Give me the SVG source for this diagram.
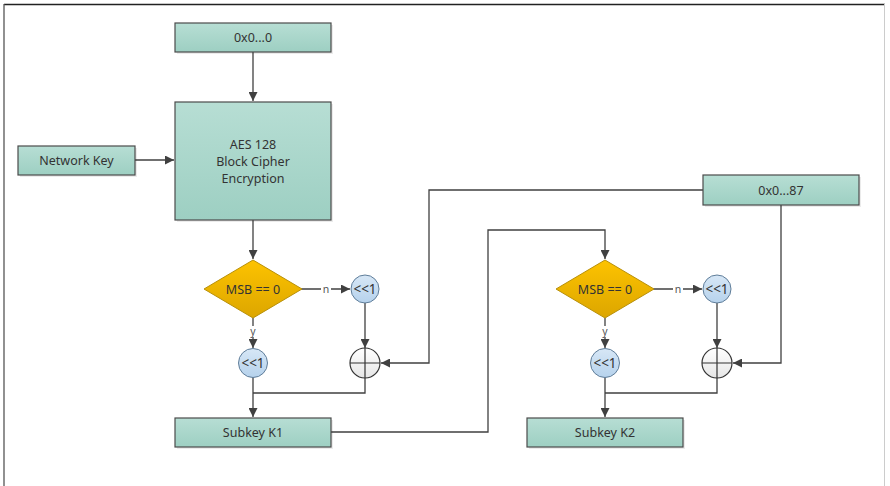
<svg xmlns="http://www.w3.org/2000/svg" width="890" height="486" viewBox="0 0 890 486">
<style>
.box{fill:url(#gTeal);stroke:#4b4b4b;stroke-width:1.2}
.dia{fill:url(#gGold);stroke:#b8900a;stroke-width:1}
.cir{fill:url(#gBlue);stroke:#5f7d99;stroke-width:1}
.xor{fill:url(#gGray);stroke:#333;stroke-width:1.2}
.sh{fill:#000;opacity:0.08}
.t{font-family:"Noto Sans","Open Sans",sans-serif;font-size:12.5px;fill:#333;text-anchor:middle;dominant-baseline:central}
.ct{font-size:13.5px}
.lbl{font-family:"Noto Sans","Open Sans",sans-serif;font-size:10.5px;fill:#555;text-anchor:middle;dominant-baseline:central}
.c{fill:none;stroke:#404040;stroke-width:1.3}
.ca{fill:none;stroke:#404040;stroke-width:1.3;marker-end:url(#arr)}
</style>
<defs>
<linearGradient id="gTeal" x1="0" y1="0" x2="0" y2="1"><stop offset="0" stop-color="#b7ded4"/><stop offset="1" stop-color="#9dcfc2"/></linearGradient>
<linearGradient id="gGold" x1="0" y1="0" x2="0" y2="1"><stop offset="0" stop-color="#fdc300"/><stop offset="1" stop-color="#dca600"/></linearGradient>
<linearGradient id="gBlue" x1="0" y1="0" x2="0" y2="1"><stop offset="0" stop-color="#d7e7f6"/><stop offset="1" stop-color="#b6d2ec"/></linearGradient>
<linearGradient id="gGray" x1="0" y1="0" x2="0" y2="1"><stop offset="0" stop-color="#ffffff"/><stop offset="1" stop-color="#e6e6e6"/></linearGradient>
<marker id="arr" viewBox="0 0 10 10" refX="10" refY="5" markerWidth="9" markerHeight="9" markerUnits="userSpaceOnUse" orient="auto"><path d="M0,0 L10,5 L0,10 z" fill="#404040"/></marker>
</defs>
<rect x="0" y="0" width="890" height="486" fill="#fff"/>
<g id="frame">
<line x1="4" y1="4.5" x2="885" y2="4.5" stroke="#222" stroke-width="1.3"/>
<line x1="4" y1="4" x2="4" y2="486" stroke="#555" stroke-width="1.3"/>
<line x1="884.5" y1="4" x2="884.5" y2="486" stroke="#ccc" stroke-width="1"/>
</g>
<g id="connectors">
<path class="ca" d="M253,52 V101"/>
<path class="ca" d="M135,160 H174"/>
<path class="ca" d="M253,220 V259"/>
<path class="ca" d="M301,289 H350"/>
<path class="ca" d="M253,318 V348"/>
<path class="ca" d="M365,303 V348"/>
<path class="ca" d="M253,377 V417"/>
<path class="c" d="M365,378 V393 H253"/>
<path class="ca" d="M703,190 H429 V363 H381"/>
<path class="ca" d="M331,432 H488 V230 H605 V259"/>
<path class="ca" d="M653,289 H702"/>
<path class="ca" d="M605,318 V348"/>
<path class="ca" d="M717,303 V348"/>
<path class="ca" d="M605,377 V417"/>
<path class="c" d="M717,378 V393 H605"/>
<path class="ca" d="M781,205 V363 H733"/>
<rect x="321" y="283" width="10" height="12" fill="#fff"/>
<text class="lbl" x="326" y="289">n</text>
<rect x="248" y="326" width="10" height="11" fill="#fff"/>
<text class="lbl" x="253" y="331">y</text>
<rect x="673" y="283" width="10" height="12" fill="#fff"/>
<text class="lbl" x="678" y="289">n</text>
<rect x="600" y="326" width="10" height="11" fill="#fff"/>
<text class="lbl" x="605" y="331">y</text>
</g>
<g id="zero">
<rect class="sh" x="177" y="25" width="156" height="29"/>
<rect class="box" x="175" y="23" width="156" height="29"/>
<text class="t" x="253" y="37.5">0x0...0</text>
</g>
<g id="aes">
<rect class="sh" x="177" y="104" width="156" height="118"/>
<rect class="box" x="175" y="102" width="156" height="118"/>
<text class="t" x="253" y="144">AES 128</text>
<text class="t" x="253" y="161">Block Cipher</text>
<text class="t" x="253" y="178">Encryption</text>
</g>
<g id="netkey">
<rect class="sh" x="20" y="148" width="117" height="29"/>
<rect class="box" x="18" y="146" width="117" height="29"/>
<text class="t" x="76.5" y="160.5">Network Key</text>
</g>
<g id="const87">
<rect class="sh" x="705" y="177" width="156" height="30"/>
<rect class="box" x="703" y="175" width="156" height="30"/>
<text class="t" x="781" y="190">0x0...87</text>
</g>
<g id="msb1">
<polygon class="dia" points="253,260 302,289 253,318 204,289"/>
<text class="t" x="253" y="289">MSB == 0</text>
</g>
<g id="shiftN1">
<circle class="cir" cx="365" cy="289" r="14"/>
<text class="t ct" x="365" y="289">&lt;&lt;1</text>
</g>
<g id="shiftY1">
<circle class="cir" cx="253" cy="363" r="14.5"/>
<text class="t ct" x="253" y="363">&lt;&lt;1</text>
</g>
<g id="xor1">
<circle class="xor" cx="365" cy="363" r="15"/>
<path d="M350,363 H380 M365,348 V378" stroke="#333" stroke-width="1.2"/>
</g>
<g id="k1">
<rect class="sh" x="177" y="420" width="156" height="29"/>
<rect class="box" x="175" y="418" width="156" height="29"/>
<text class="t" x="253" y="432.5">Subkey K1</text>
</g>
<g id="msb2">
<polygon class="dia" points="605,260 654,289 605,318 556,289"/>
<text class="t" x="605" y="289">MSB == 0</text>
</g>
<g id="shiftN2">
<circle class="cir" cx="717" cy="289" r="14"/>
<text class="t ct" x="717" y="289">&lt;&lt;1</text>
</g>
<g id="shiftY2">
<circle class="cir" cx="605" cy="363" r="14.5"/>
<text class="t ct" x="605" y="363">&lt;&lt;1</text>
</g>
<g id="xor2">
<circle class="xor" cx="717" cy="363" r="15"/>
<path d="M702,363 H732 M717,348 V378" stroke="#333" stroke-width="1.2"/>
</g>
<g id="k2">
<rect class="sh" x="529" y="420" width="156" height="29"/>
<rect class="box" x="527" y="418" width="156" height="29"/>
<text class="t" x="605" y="432.5">Subkey K2</text>
</g>
</svg>
